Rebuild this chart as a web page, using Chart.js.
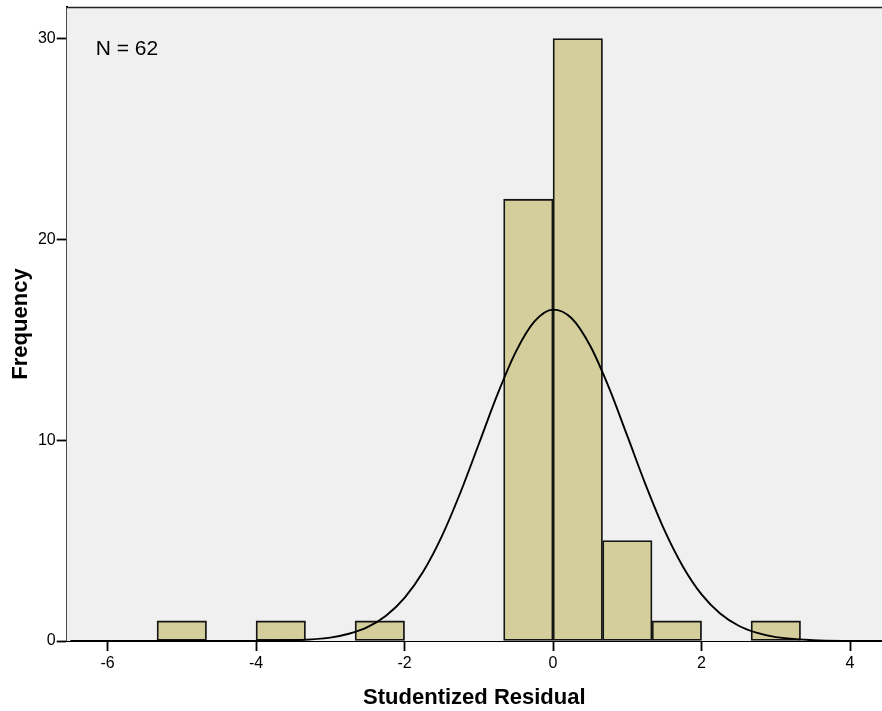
<!DOCTYPE html>
<html>
<head>
<meta charset="utf-8">
<script src="https://cdn.jsdelivr.net/npm/chart.js@4/dist/chart.umd.min.js"></script>
<style>
  html, body { margin: 0; padding: 0; background: #ffffff; }
  #wrap { width: 882px; height: 711px; position: relative; }
</style>
</head>
<body>
<div id="wrap"><canvas id="hist"></canvas></div>
<script>
// Histogram bins (centre of each 2/3-wide bin) and counts
const binCenters = [-5, -3.667, -2.333, -0.333, 0.333, 1, 1.667, 3];
const frequencies = [1, 1, 1, 22, 30, 5, 1, 1];

// Fitted normal curve, sampled along the residual axis
const curveX = [-6.5, -5, -4.5, -4, -3.5, -3, -2.75, -2.5, -2.25, -2, -1.75, -1.5, -1.25, -1,
                -0.75, -0.5, -0.25, 0, 0.25, 0.5, 0.75, 1, 1.25, 1.5, 1.75, 2, 2.25, 2.5,
                2.75, 3, 3.5, 4, 4.43];
const curveY = [0, 0, 0.001, 0.005, 0.034, 0.17, 0.36, 0.69, 1.26, 2.15, 3.45, 5.2, 7.37, 9.81,
                12.27, 14.41, 15.91, 16.5, 16.07, 14.7, 12.64, 10.21, 7.75, 5.52, 3.7, 2.32, 1.37, 0.76,
                0.4, 0.19, 0.04, 0.006, 0.001];

// Axis ticks
const xTickValues = [-6, -4, -2, 0, 2, 4];
const yTickValues = [0, 10, 20, 30];

const sampleLabel = 'N = 62';

const plotFrame = {
  id: 'plotFrame',
  beforeDatasetsDraw(chart) {
    const { ctx, chartArea: a } = chart;
    ctx.save();
    ctx.fillStyle = '#f0f0f0';
    ctx.fillRect(a.left, a.top, a.right - a.left, a.bottom - a.top);
    ctx.restore();
  },
  afterDraw(chart) {
    const { ctx, chartArea: a } = chart;
    ctx.save();
    ctx.strokeStyle = '#222222';
    ctx.lineWidth = 1.5;
    ctx.beginPath();
    ctx.moveTo(a.left, a.top + 0.5);
    ctx.lineTo(a.right, a.top + 0.5);
    ctx.stroke();
    ctx.fillStyle = '#000000';
    ctx.font = '21px "Liberation Sans", Arial, sans-serif';
    ctx.textBaseline = 'alphabetic';
    ctx.textAlign = 'left';
    ctx.fillText(sampleLabel, a.left + 29, 55);
    ctx.restore();
  }
};

new Chart(document.getElementById('hist'), {
  data: {
    datasets: [
      {
        type: 'line',
        data: curveX.map((x, i) => ({ x, y: curveY[i] })),
        borderColor: '#000000',
        borderWidth: 1.9,
        pointRadius: 0,
        cubicInterpolationMode: 'monotone',
        fill: false,
        order: 0
      },
      {
        type: 'bar',
        data: binCenters.map((x, i) => ({ x, y: frequencies[i] })),
        backgroundColor: '#d3ce9b',
        borderColor: '#141414',
        borderWidth: 1.8,
        borderSkipped: false,
        categoryPercentage: 1,
        barPercentage: 1,
        order: 1
      }
    ]
  },
  options: {
    responsive: true,
    maintainAspectRatio: false,
    animation: false,
    layout: { padding: { top: 7, right: 0, bottom: 0, left: 0 } },
    plugins: {
      legend: { display: false },
      tooltip: { enabled: false }
    },
    scales: {
      x: {
        type: 'linear',
        min: -6.55,
        max: 4.43,
        offset: false,
        afterBuildTicks(scale) { scale.ticks = xTickValues.map(v => ({ value: v })); },
        afterFit(scale) { scale.height = 70; scale.paddingLeft = 0; scale.paddingRight = 0; },
        grid: { offset: false, drawOnChartArea: false, drawTicks: true, tickLength: 10, tickColor: '#000000', tickWidth: 1.8 },
        border: { display: true, color: '#000000', width: 2 },
        ticks: {
          color: '#000000',
          padding: 3,
          maxRotation: 0,
          font: { family: '"Liberation Sans", Arial, sans-serif', size: 16 }
        },
        title: {
          display: true,
          text: 'Studentized Residual',
          color: '#000000',
          padding: { top: 0, bottom: 0 },
          font: { family: '"Liberation Sans", Arial, sans-serif', size: 22, weight: 'bold' }
        }
      },
      y: {
        type: 'linear',
        min: 0,
        max: 31.57,
        afterBuildTicks(scale) { scale.ticks = yTickValues.map(v => ({ value: v })); },
        afterFit(scale) { scale.width = 66.7; scale.paddingTop = 0; scale.paddingBottom = 0; },
        grid: { drawOnChartArea: false, drawTicks: true, tickLength: 10, tickColor: '#000000', tickWidth: 1.8 },
        border: { display: true, color: '#000000', width: 2 },
        ticks: {
          color: '#000000',
          padding: 1,
          font: { family: '"Liberation Sans", Arial, sans-serif', size: 16 }
        },
        title: {
          display: true,
          text: 'Frequency',
          color: '#000000',
          padding: { top: 7.5, bottom: 0 },
          font: { family: '"Liberation Sans", Arial, sans-serif', size: 22, weight: 'bold' }
        }
      }
    }
  },
  plugins: [plotFrame]
});
</script>
</body>
</html>
